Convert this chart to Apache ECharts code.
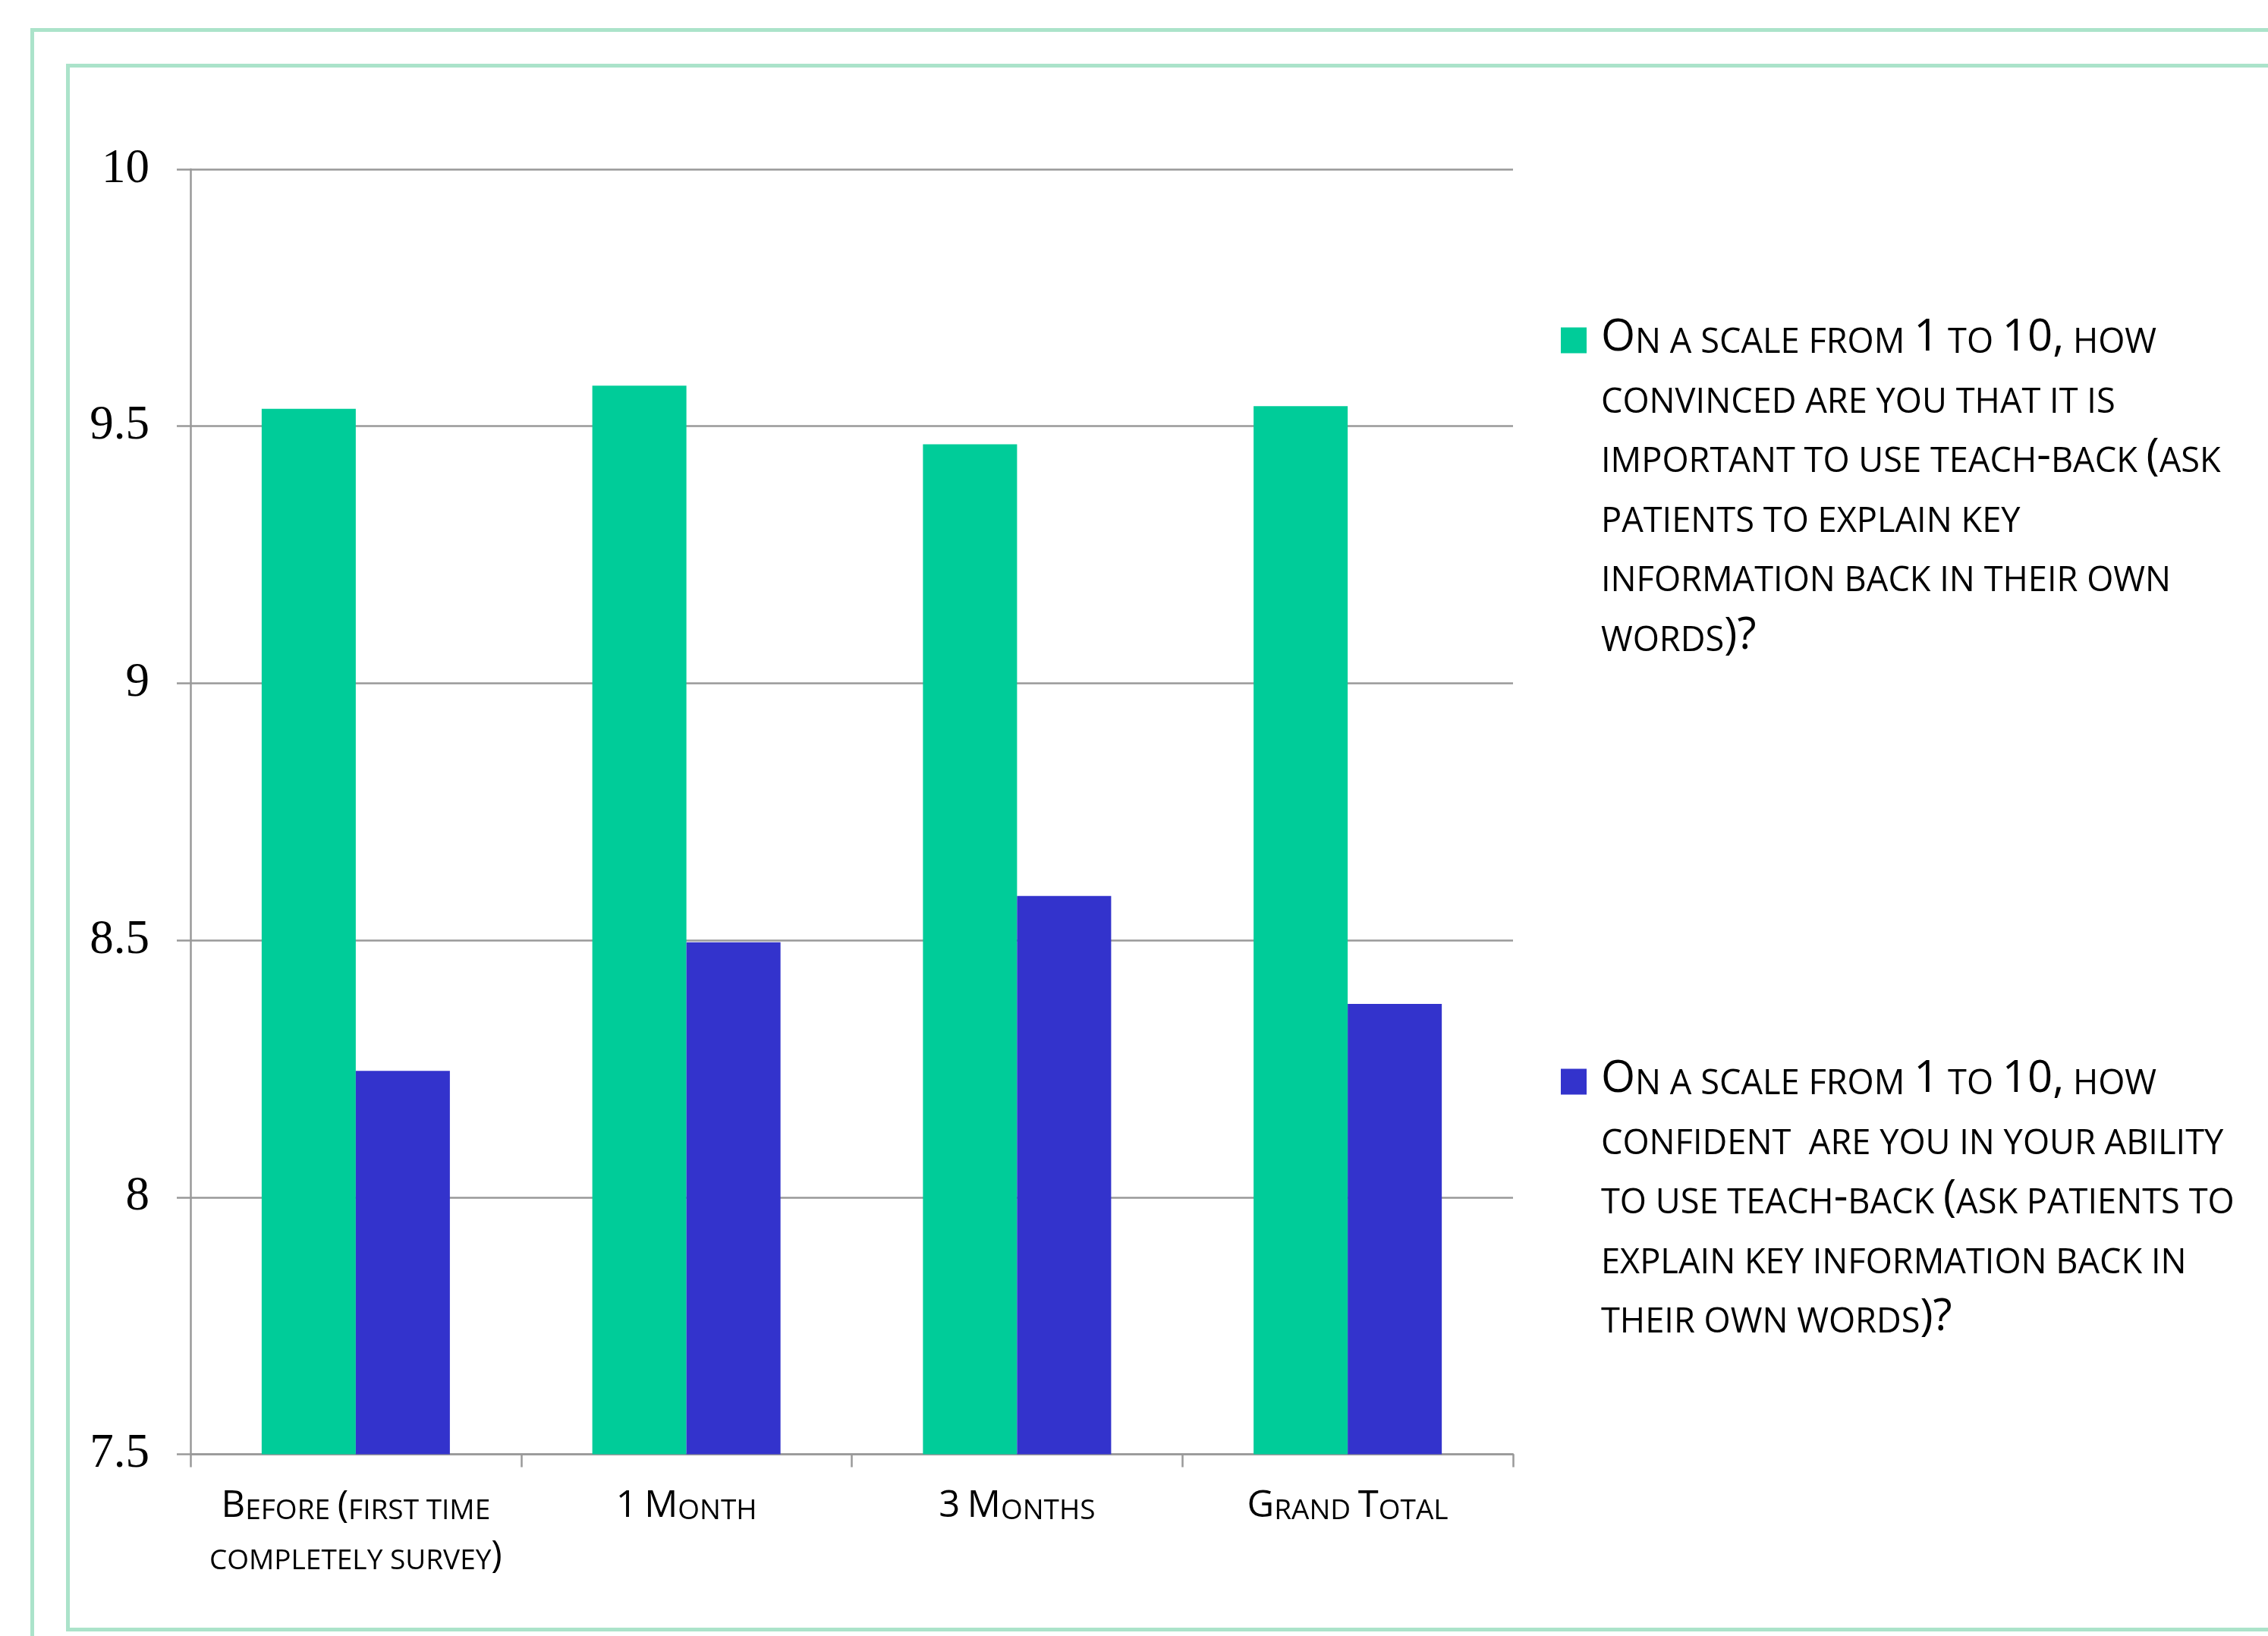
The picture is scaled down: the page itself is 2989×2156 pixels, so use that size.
<!DOCTYPE html>
<html>
<head>
<meta charset="utf-8">
<script src="https://cdn.jsdelivr.net/npm/echarts@6/dist/echarts.min.js"></script>
<style>
html,body{margin:0;padding:0;background:#fff;}
#chart{width:2989px;height:2156px;}
</style>
</head>
<body>
<div id="chart"></div>
<script>
// ---- data ----
var categories = ['Before (first time\ncompletely survey)', '1 Month', '3 Months', 'Grand Total'];
var seriesNames = [
  'On a scale from 1 to 10, how\nconvinced are you that it is\nimportant to use teach-back (ask\npatients to explain key\ninformation back in their own\nwords)?',
  'On a scale from 1 to 10, how\nconfident  are you in your ability\nto use teach-back (ask patients to\nexplain key information back in\ntheir own words)?'
];
var convincedValues = [9.534, 9.579, 9.465, 9.539];
var confidentValues = [8.246, 8.496, 8.586, 8.376];
var yTicks = { min: 7.5, max: 10, interval: 0.5 };
var colors = ['#00CC99', '#3333CC'];

// small-caps rendering: lowercase letters (and spaces) -> small uppercase, rest full size
function smallCaps(str) {
  var lines = str.split('\n');
  return lines.map(function (line) {
    var out = '{b|\u200b}';
    var cur = null, buf = '';
    function flush() { if (buf) { out += '{' + cur + '|' + buf + '}'; } buf = ''; }
    for (var i = 0; i < line.length; i++) {
      var ch = line[i];
      var cls = ((ch >= 'a' && ch <= 'z') || ch === ' ') ? 's' : 'b';
      if (cls !== cur) { flush(); cur = cls; }
      buf += (cls === 's') ? ch.toUpperCase() : ch;
    }
    flush();
    return out;
  }).join('\n');
}

var FONT = 'Open Sans';
// legend text metrics
var LH = 78.5, LB = 58, LS = 45.2, K = 0.388;
var legendRich = {
  b: { fontFamily: FONT, fontSize: LB, lineHeight: LH, verticalAlign: 'bottom', color: '#000' },
  s: { fontFamily: FONT, fontSize: LS, lineHeight: LH - 2 * K * (LB - LS), verticalAlign: 'bottom', color: '#000' }
};
// axis label metrics
var XLH = 65.5, XB = 49, XS = 37;
var xRich = {
  b: { fontFamily: FONT, fontSize: XB, lineHeight: XLH, verticalAlign: 'bottom', color: '#000' },
  s: { fontFamily: FONT, fontSize: XS, lineHeight: XLH - 2 * K * (XB - XS), verticalAlign: 'bottom', color: '#000' }
};

function legendCfg(idx, top, nLines) {
  var sq = 34;
  var firstCenter = 4;
  var H = 2 * (firstCenter + (nLines - 1) / 2 * LH);
  var N = H / sq;
  var W = 1.411;
  return {
    data: [seriesNames[idx]],
    left: 2057,
    top: top - ((nLines * LH) / 2 - H / 2),
    orient: 'vertical',
    padding: 0,
    selectedMode: false,
    itemWidth: sq * W,
    itemHeight: H,
    icon: 'path://M0 0H1V1H0Z M' + W + ' ' + N.toFixed(4) + 'L' + (W - 0.001) + ' ' + N.toFixed(4),
    formatter: function (name) { return smallCaps(name); },
    textStyle: { rich: legendRich }
  };
}

var chart = echarts.init(document.getElementById('chart'), null, { renderer: 'canvas' });
var gray = '#999999';
var option = {
  backgroundColor: '#ffffff',
  animation: false,
  graphic: [
    { type: 'rect', silent: true, shape: { x: 42.5, y: 39.5, width: 3200, height: 2400 },
      style: { fill: 'none', stroke: '#ABE3CA', lineWidth: 5 } },
    { type: 'rect', silent: true, shape: { x: 89.5, y: 86.5, width: 3200, height: 2061 },
      style: { fill: 'none', stroke: '#ABE3CA', lineWidth: 5 } }
  ],
  legend: [
    legendCfg(0, 452, 6),
    legendCfg(1, 1429, 5)
  ],
  grid: { left: 251, right: 995, top: 223, bottom: 239.5 },
  xAxis: {
    type: 'category',
    data: categories,
    boundaryGap: true,
    axisLine: { show: true, lineStyle: { color: gray, width: 2.5 } },
    axisTick: { show: true, alignWithLabel: false, length: 17, lineStyle: { color: gray, width: 2.5 } },
    axisLabel: {
      interval: 0,
      margin: 28,
      formatter: function (v) { return smallCaps(v); },
      rich: xRich
    },
    splitLine: { show: false }
  },
  yAxis: {
    type: 'value',
    min: yTicks.min,
    max: yTicks.max,
    interval: yTicks.interval,
    axisLine: { show: true, lineStyle: { color: gray, width: 2.5 } },
    axisTick: { show: true, inside: false, length: 18, lineStyle: { color: gray, width: 2.5 } },
    axisLabel: { margin: 54, fontFamily: 'Liberation Serif', fontSize: 63, color: '#000' },
    splitLine: { show: true, lineStyle: { color: gray, width: 2.5 } }
  },
  series: [
    { name: seriesNames[0], type: 'bar', data: convincedValues, barWidth: '28.46%', barGap: '0%',
      itemStyle: { color: colors[0] } },
    { name: seriesNames[1], type: 'bar', data: confidentValues, barWidth: '28.46%', barGap: '0%',
      itemStyle: { color: colors[1] } }
  ]
};
chart.setOption(option);
</script>
</body>
</html>
